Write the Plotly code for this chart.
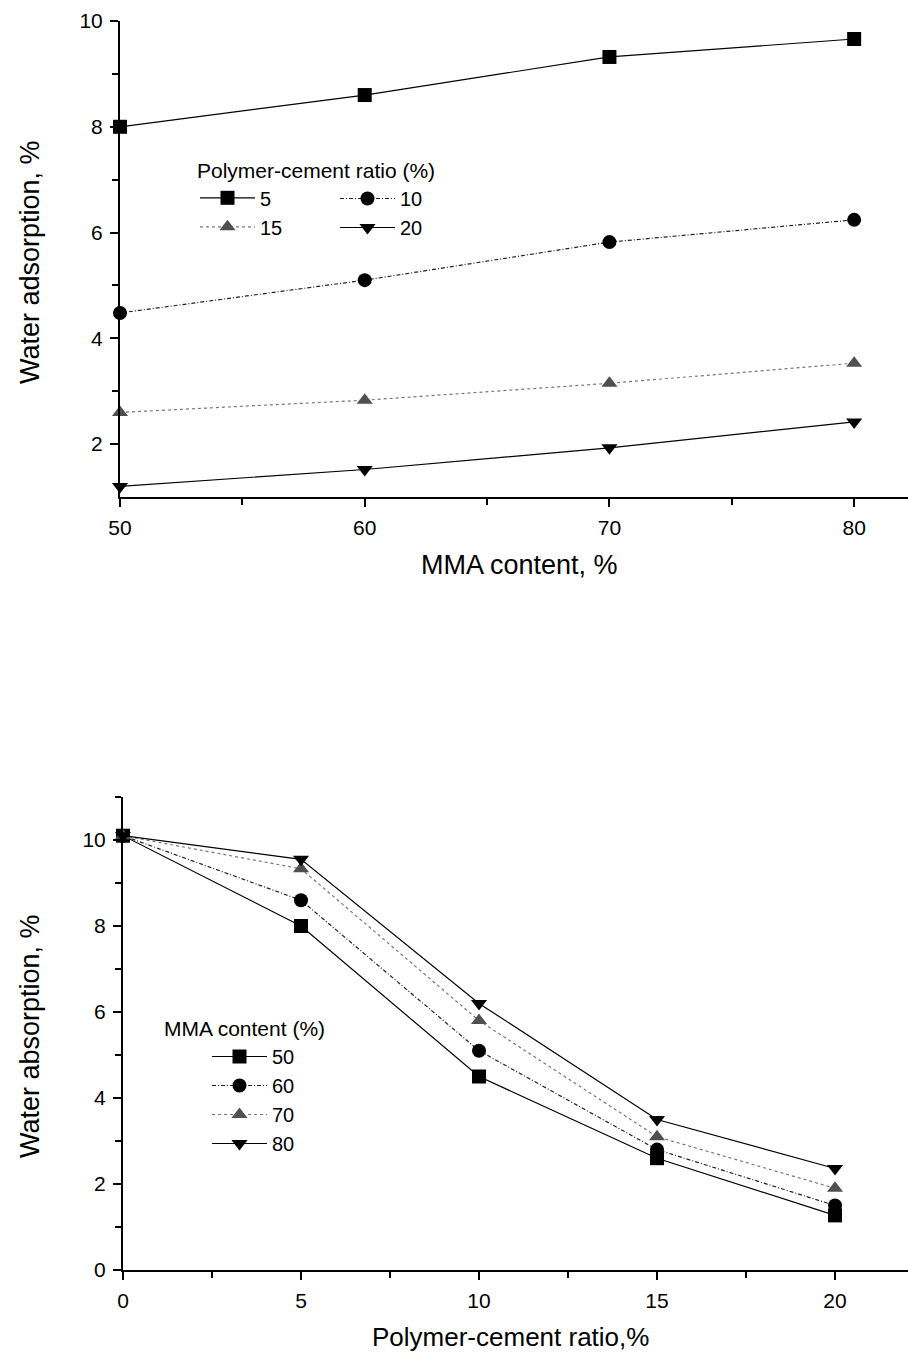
import plotly.graph_objects as go

# ---------------- data ----------------
mma_content = [50, 60, 70, 80]
ratio_5 = [8.0, 8.6, 9.32, 9.66]
ratio_10 = [4.48, 5.1, 5.82, 6.24]
ratio_15 = [2.6, 2.83, 3.15, 3.53]
ratio_20 = [1.2, 1.52, 1.93, 2.42]

pc_ratio = [0, 5, 10, 15, 20]
mma_50 = [10.1, 8.0, 4.5, 2.6, 1.27]
mma_60 = [10.1, 8.6, 5.1, 2.8, 1.5]
mma_70 = [10.1, 9.33, 5.8, 3.1, 1.9]
mma_80 = [10.1, 9.55, 6.2, 3.5, 2.36]

FONT = "Liberation Sans, Arial, sans-serif"
W, H = 908, 1355
ML, MR, MT, MB = 120, 0, 21, 85
PW, PH = W - ML - MR, H - MT - MB


def px_x(x):
    return (x - ML) / PW


def px_y(y):
    return (H - MB - y) / PH


styles = {
    "square": dict(symbol="square", color="black", line=dict(color="black", dash="solid", width=1.2)),
    "circle": dict(symbol="circle", color="black", line=dict(color="#222", dash="4px,2px,1px,2px", width=1.2)),
    "tri_up": dict(symbol="triangle-up", color="#505050", line=dict(color="#777", dash="dot", width=1.2)),
    "tri_dn": dict(symbol="triangle-down", color="black", line=dict(color="black", dash="solid", width=1.2)),
}

fig = go.Figure()

top_series = [("5", ratio_5, "square", "legend"),
              ("10", ratio_10, "circle", "legend2"),
              ("15", ratio_15, "tri_up", "legend"),
              ("20", ratio_20, "tri_dn", "legend2")]
for name, vals, st, lg in top_series:
    s = styles[st]
    fig.add_trace(go.Scatter(
        x=mma_content, y=vals, name=name, mode="lines+markers",
        line=s["line"], marker=dict(symbol=s["symbol"], color=s["color"], size=14),
        xaxis="x", yaxis="y", legend=lg, cliponaxis=False))

bot_series = [("50", mma_50, "square"), ("60", mma_60, "circle"),
              ("70", mma_70, "tri_up"), ("80", mma_80, "tri_dn")]
for name, vals, st in bot_series:
    s = styles[st]
    fig.add_trace(go.Scatter(
        x=pc_ratio, y=vals, name=name, mode="lines+markers",
        line=s["line"], marker=dict(symbol=s["symbol"], color=s["color"], size=14),
        xaxis="x2", yaxis="y2", legend="legend3", cliponaxis=False))

axis_common = dict(
    showline=True, linecolor="black", linewidth=2, showgrid=False, zeroline=False,
    ticks="outside", ticklen=8, tickwidth=2, tickcolor="black", ticklabelstandoff=3,
    tickfont=dict(family=FONT, size=21, color="black"), mirror=False,
)

top_y0, top_y1 = px_y(497), px_y(21)
bot_y0, bot_y1 = px_y(1270), px_y(797)

fig.update_layout(
    width=W, height=H, margin=dict(l=ML, r=MR, t=MT, b=MB),
    paper_bgcolor="white", plot_bgcolor="white",
    font=dict(family=FONT, color="black"),
    xaxis=dict(axis_common, domain=[0, 1], range=[50, 82.2], tickvals=[50, 60, 70, 80],
               minor=dict(tickvals=[55, 65, 75], ticks="outside", ticklen=6, tickwidth=1.5, tickcolor="black"),
               anchor="y"),
    yaxis=dict(axis_common, domain=[top_y0, top_y1], range=[1, 10], tickvals=[2, 4, 6, 8, 10],
               minor=dict(tickvals=[3, 5, 7, 9], ticks="outside", ticklen=6, tickwidth=1.5, tickcolor="black"),
               anchor="x"),
    xaxis2=dict(axis_common, domain=[px_x(123), 1], range=[0, 22.05], tickvals=[0, 5, 10, 15, 20],
                minor=dict(tickvals=[2.5, 7.5, 12.5, 17.5], ticks="outside", ticklen=6, tickwidth=1.5, tickcolor="black"),
                anchor="y2"),
    yaxis2=dict(axis_common, domain=[bot_y0, bot_y1], range=[0, 11], tickvals=[0, 2, 4, 6, 8, 10],
                minor=dict(tickvals=[1, 3, 5, 7, 9, 11], ticks="outside", ticklen=6, tickwidth=1.5, tickcolor="black"),
                anchor="x2"),
    legend=dict(x=px_x(195), y=px_y(151), xanchor="left", yanchor="top",
                title=dict(text="Polymer-cement ratio (%)", font=dict(family=FONT, size=21)),
                font=dict(family=FONT, size=20), itemwidth=55, bgcolor="rgba(0,0,0,0)",
                tracegroupgap=0),
    legend2=dict(x=px_x(335), y=px_y(179), xanchor="left", yanchor="top",
                 font=dict(family=FONT, size=20), itemwidth=55, bgcolor="rgba(0,0,0,0)",
                 tracegroupgap=0),
    legend3=dict(x=px_x(207), y=px_y(1037), xanchor="left", yanchor="top",
                 font=dict(family=FONT, size=20), itemwidth=55, bgcolor="rgba(0,0,0,0)",
                 tracegroupgap=0),
    showlegend=True,
)

annots = [
    dict(text="Water adsorption, %", x=px_x(30), y=px_y(262), textangle=-90, font=dict(size=27)),
    dict(text="MMA content, %", x=px_x(519), y=px_y(565), font=dict(size=27)),
    dict(text="Water absorption, %", x=px_x(30), y=px_y(1036), textangle=-90, font=dict(size=27)),
    dict(text="Polymer-cement ratio,%", x=px_x(510), y=px_y(1337), font=dict(size=26)),
    dict(text="MMA content (%)", x=px_x(162), y=px_y(1028), xanchor="left", font=dict(size=21)),
]
for a in annots:
    fig.add_annotation(xref="paper", yref="paper", showarrow=False,
                       xanchor=a.get("xanchor", "center"), yanchor="middle",
                       x=a["x"], y=a["y"], text=a["text"], textangle=a.get("textangle", 0),
                       font=dict(family=FONT, color="black", size=a["font"]["size"]))

fig.write_html("out.html")
